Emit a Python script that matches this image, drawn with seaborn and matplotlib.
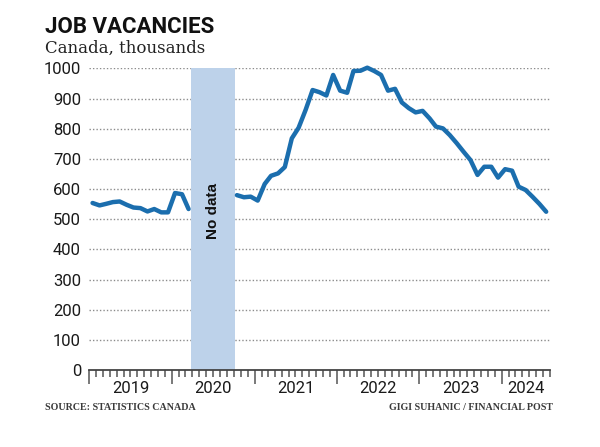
import pandas as pd
import seaborn as sns
import matplotlib.pyplot as plt
from matplotlib import font_manager
from matplotlib.transforms import blended_transform_factory

# Job vacancies, Canada, thousands (monthly)
# Jan 2019 - Mar 2020, then no data until Oct 2020
pre_start = '2019-01-01'
pre_values = [554, 546, 551, 557, 559, 548, 539, 537, 526, 534, 523, 523, 587, 583, 534]
# Oct 2020 - Jul 2024
post_start = '2020-10-01'
post_values = [580, 573, 575, 562, 617, 644, 652, 673, 768, 803, 862, 928,
               921, 910, 978, 926, 919, 991, 992, 1002, 991, 978, 926, 932,
               887, 868, 854, 859, 834, 807, 801, 779, 752, 724, 696, 647,
               674, 674, 638, 666, 661, 608, 597, 575, 551, 525]
gap_start, gap_end = '2020-03-27', '2020-10-05'
years = [2019, 2020, 2021, 2022, 2023, 2024]
y_ticks = list(range(0, 1001, 100))


def monthly(start, values):
    # points sit in the middle of each month
    d = pd.date_range(start, periods=len(values), freq='MS') + pd.Timedelta(days=14)
    return pd.DataFrame({'date': d, 'value': values})


pre = monthly(pre_start, pre_values)
post = monthly(post_start, post_values)

names = {f.name for f in font_manager.fontManager.ttflist}
title_font = 'Liberation Sans Narrow' if 'Liberation Sans Narrow' in names else 'Roboto'

sns.set_style('white')
plt.rcParams['font.family'] = ['Roboto', 'DejaVu Sans']
plt.rcParams['xtick.bottom'] = True
plt.rcParams['xtick.minor.bottom'] = True

line_color = '#1b6eae'
band_color = '#bdd2ea'

fig = plt.figure(figsize=(6, 4.47), dpi=100)
ax = fig.add_axes([0.149, 0.1716, 0.9167 - 0.149, 0.8472 - 0.1716])

x0, x1 = pd.Timestamp('2019-01-01'), pd.Timestamp('2024-08-01')
ax.axvspan(pd.Timestamp(gap_start), pd.Timestamp(gap_end), ymin=0, ymax=1,
           color=band_color, lw=0, zorder=1)

for part in (pre, post):
    sns.lineplot(data=part, x='date', y='value', ax=ax, color=line_color,
                 linewidth=3.2, zorder=3, clip_on=False)

ax.set_xlim(x0, x1)
ax.set_ylim(0, 1000)
ax.set_yticks(y_ticks)
ax.set_yticklabels([str(v) for v in y_ticks], fontsize=12, color='#1a1a1a')
ax.tick_params(axis='y', length=0, pad=6)
for v in y_ticks[1:]:
    ax.axhline(v, color='#8c8c8c', lw=1.0, ls=(0, (1, 1.5)), zorder=0)

# year boundaries as long ticks, months as short ones
year_starts = pd.date_range(x0, x1, freq='YS')
month_starts = [d for d in pd.date_range(x0, x1, freq='MS') if d.month != 1]
ax.set_xticks(year_starts)
ax.set_xticklabels([''] * len(year_starts))
ax.set_xticks(month_starts, minor=True)
ax.tick_params(axis='x', which='major', bottom=True, length=10, width=1.1,
               color='#555555', direction='out')
ax.tick_params(axis='x', which='minor', bottom=True, length=5, width=1.1,
               color='#555555', direction='out')
ax.set_xlabel('')
ax.set_ylabel('')

for side in ('left', 'top', 'right'):
    ax.spines[side].set_visible(False)
ax.spines['bottom'].set_color('#444444')
ax.spines['bottom'].set_linewidth(1.3)
ax.spines['bottom'].set_zorder(4)

# year labels centred on the visible part of each year
trans = blended_transform_factory(ax.transData, ax.transAxes)
for yr in years:
    a = max(pd.Timestamp(f'{yr}-01-01'), x0)
    b = min(pd.Timestamp(f'{yr + 1}-01-01'), x1)
    mid = a + (b - a) / 2
    ax.text(mid, -0.036, str(yr), transform=trans, ha='center', va='top',
            fontsize=12, color='#1a1a1a')

gap_mid = pd.Timestamp(gap_start) + (pd.Timestamp(gap_end) - pd.Timestamp(gap_start)) / 2
ax.text(gap_mid, 528, 'No data', rotation=90, ha='center', va='center',
        fontsize=11, fontweight='bold', family=['Liberation Sans', 'DejaVu Sans'],
        color='#111111', zorder=5)

fig.text(45 / 600, 1 - 33 / 447, 'JOB VACANCIES', fontsize=16, fontweight='bold',
         family=[title_font, 'DejaVu Sans'], color='#111111', ha='left', va='baseline')
fig.text(45 / 600, 1 - 53 / 447, 'Canada, thousands', fontsize=12,
         family=['DejaVu Serif'], color='#222222', ha='left', va='baseline')
fig.text(45 / 600, 1 - 410 / 447, 'SOURCE: STATISTICS CANADA', fontsize=7.2,
         fontweight='bold', family=['Liberation Serif', 'DejaVu Serif'],
         color='#3a3a3a', ha='left', va='baseline')
fig.text(553 / 600, 1 - 410 / 447, 'GIGI SUHANIC / FINANCIAL POST', fontsize=7.2,
         fontweight='bold', family=['Liberation Serif', 'DejaVu Serif'],
         color='#3a3a3a', ha='right', va='baseline')

plt.savefig('out.png', dpi=100)
